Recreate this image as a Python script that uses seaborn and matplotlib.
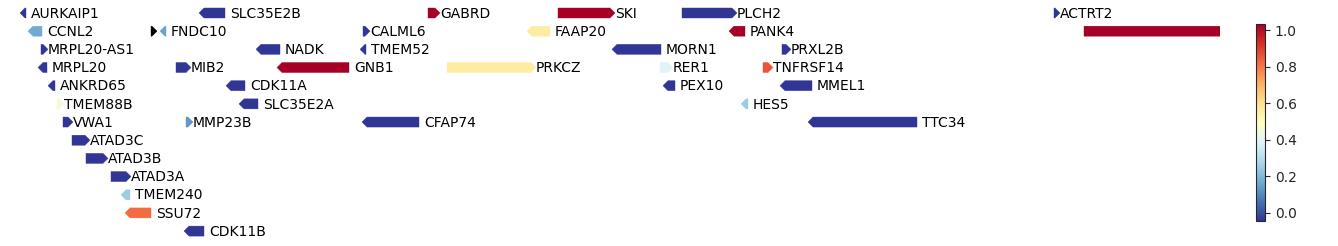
import numpy as np
import matplotlib
matplotlib.use("Agg")
import matplotlib.pyplot as plt
from matplotlib.patches import Polygon
from matplotlib.colors import Normalize
import seaborn as sns

sns.set_style("white")
plt.rcParams['font.family'] = ['DejaVu Sans']

# ---- data (x in track units, row index, strand, score) ----
names = ["AURKAIP1", "SLC35E2B", "GABRD", "SKI", "PLCH2", "ACTRT2",
         "CCNL2", "", "FNDC10", "CALML6", "FAAP20", "PANK4", "",
         "MRPL20-AS1", "NADK", "TMEM52", "MORN1", "PRXL2B",
         "MRPL20", "MIB2", "GNB1", "PRKCZ", "RER1", "TNFRSF14",
         "ANKRD65", "CDK11A", "PEX10", "MMEL1",
         "TMEM88B", "SLC35E2A", "HES5",
         "VWA1", "MMP23B", "CFAP74", "TTC34",
         "ATAD3C", "ATAD3B", "ATAD3A", "TMEM240", "SSU72", "CDK11B"]
starts = [20, 199, 428, 558, 682, 1054,
          28, 151, 160, 363, 527, 729, 1084,
          41, 256, 360, 612, 782,
          38, 176, 277, 447, 660, 763,
          48, 226, 663, 780,
          57, 239, 741,
          63, 186, 362, 808,
          72, 86, 111, 121, 125, 184]
ends = [26, 225, 440, 615, 737, 1060,
        42, 157, 166, 370, 550, 745, 1290,
        48, 280, 366, 661, 791,
        47, 191, 349, 536, 673, 773,
        55, 245, 675, 812,
        64, 258, 748,
        73, 193, 419, 917,
        90, 108, 131, 130, 151, 204]
rows = [0, 0, 0, 0, 0, 0,
        1, 1, 1, 1, 1, 1, 1,
        2, 2, 2, 2, 2,
        3, 3, 3, 3, 3, 3,
        4, 4, 4, 4,
        5, 5, 5,
        6, 6, 6, 6,
        7, 8, 9, 10, 11, 12]
strands = ["-", "-", "+", "+", "+", "+",
           "-", "+", "-", "+", "-", "-", "+",
           "+", "-", "-", "-", "+",
           "-", "+", "-", "+", "+", "+",
           "-", "-", "-", "-",
           "+", "-", "-",
           "+", "+", "-", "-",
           "+", "+", "+", "-", "-", "-"]
scores = [-0.04, -0.04, 1.03, 1.03, -0.04, -0.04,
          0.17, np.nan, 0.15, -0.04, 0.56, 1.03, 1.03,
          -0.04, -0.04, -0.04, -0.04, -0.04,
          -0.04, -0.04, 1.03, 0.56, 0.39, 0.86,
          -0.04, -0.04, -0.04, -0.04,
          0.445, -0.04, 0.25,
          -0.04, 0.13, -0.04, -0.04,
          -0.04, -0.04, -0.04, 0.25, 0.82, -0.04]
cbar_ticks = [0.0, 0.2, 0.4, 0.6, 0.8, 1.0]

# ---- figure ----
W, H = 1338, 246
fig = plt.figure(figsize=(W / 100, H / 100), dpi=100)
ax = fig.add_axes([10 / W, 0, 1210 / W, 1])
ax.set_xlim(10, 1220)
ax.set_ylim(12.82, -0.715)
ax.axis("off")

cmap = sns.color_palette("RdYlBu_r", as_cmap=True).copy()
cmap.set_bad("black")
norm = Normalize(vmin=-0.044, vmax=1.033)

bar_h = 0.55
head_px = 5.0
for name, s, e, r, st, v in zip(names, starts, ends, rows, strands, scores):
    hl = min(head_px, e - s)
    y0, y1 = r - bar_h / 2, r + bar_h / 2
    if st == "+":
        pts = [(s, y0), (e - hl, y0), (e, r), (e - hl, y1), (s, y1)]
    else:
        pts = [(e, y0), (s + hl, y0), (s, r), (s + hl, y1), (e, y1)]
    col = cmap(norm(v)) if not np.isnan(v) else "black"
    ax.add_patch(Polygon(pts, closed=True, facecolor=col, edgecolor=col,
                         linewidth=0.3, clip_on=True))
    if name:
        off = 3.5 if st == "-" else 0.0
        ax.annotate(name, xy=(e, r), xytext=(off, -0.5), textcoords="offset points",
                    ha="left", va="center", fontsize=10, color="black")

cax = fig.add_axes([1256 / W, (H - 221) / H, 9 / W, 197 / H])
sm = matplotlib.cm.ScalarMappable(norm=norm, cmap=cmap)
sm.set_array([])
cb = fig.colorbar(sm, cax=cax, ticks=cbar_ticks)
cb.ax.tick_params(labelsize=10, length=3.5, width=0.8)
cb.outline.set_linewidth(0.8)

fig.savefig("out.png", dpi=100)
